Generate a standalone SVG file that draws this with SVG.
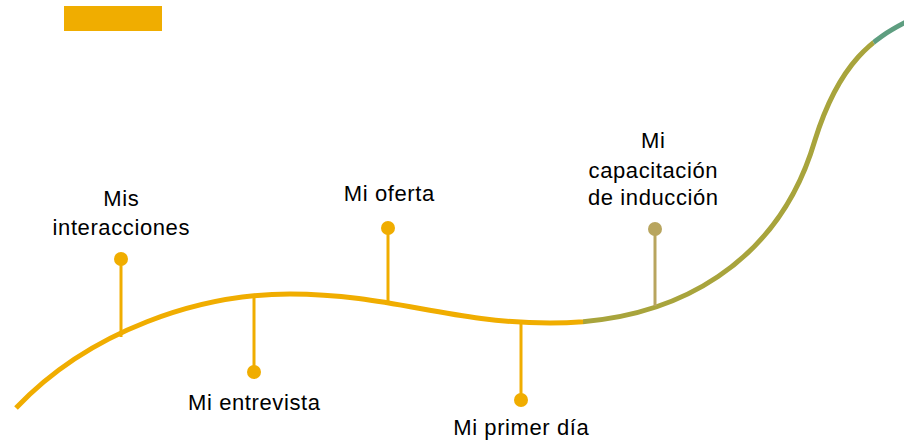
<svg xmlns="http://www.w3.org/2000/svg" width="904" height="443" viewBox="0 0 904 443">
<style>
.road{fill:none;stroke-width:5;stroke-linecap:butt}
.stem{stroke-width:3;fill:none}
.y{stroke:#F0AD00}
.yf{fill:#F0AD00}
.lbl{font-family:"Liberation Sans",Arial,sans-serif;font-size:22px;letter-spacing:0.6px;fill:#000;text-anchor:middle}
</style>
<defs>
<path id="curve" d="M16,408 C90,330 200,294 290,294 C390,294 450,323 550,323 C680,323 780,260 815,140 C840,60 875,38 906,22"/>
<clipPath id="cy"><rect x="0" y="0" width="583" height="443"/></clipPath>
<clipPath id="co2"><polygon points="583,0 850,0 885,63 900,443 583,443"/></clipPath>
<clipPath id="ct"><polygon points="850,0 904,0 904,443 885,63"/></clipPath>
</defs>
<rect x="64" y="6" width="98" height="25" fill="#F0AD00"/>
<g id="connectors">
<use href="#curve" class="road" stroke="#F0AD00" clip-path="url(#cy)"/>
<use href="#curve" class="road" stroke="#A8A43C" clip-path="url(#co2)"/>
<use href="#curve" class="road" stroke="#5E9E80" clip-path="url(#ct)"/>
</g>
<g id="node-interacciones">
<line class="stem y" x1="121" y1="259" x2="121" y2="337"/>
<circle class="yf" cx="121" cy="259" r="7"/>
<text class="lbl" x="121.3" y="206">Mis</text>
<text class="lbl" x="121.3" y="235">interacciones</text>
</g>
<g id="node-entrevista">
<line class="stem y" x1="254" y1="296" x2="254" y2="372"/>
<circle class="yf" cx="254" cy="372" r="7"/>
<text class="lbl" x="254.3" y="410">Mi entrevista</text>
</g>
<g id="node-oferta">
<line class="stem y" x1="388" y1="228" x2="388" y2="301"/>
<circle class="yf" cx="388" cy="228" r="7"/>
<text class="lbl" x="389.3" y="201">Mi oferta</text>
</g>
<g id="node-primer-dia">
<line class="stem y" x1="521" y1="322" x2="521" y2="400"/>
<circle class="yf" cx="521" cy="400" r="7"/>
<text class="lbl" x="521.3" y="435">Mi primer día</text>
</g>
<g id="node-capacitacion">
<line class="stem" stroke="#B8A55E" x1="655" y1="229" x2="655" y2="306"/>
<circle fill="#B8A55E" cx="655" cy="229" r="7"/>
<text class="lbl" x="653.3" y="148">Mi</text>
<text class="lbl" x="653.3" y="178">capacitación</text>
<text class="lbl" x="653.3" y="205">de inducción</text>
</g>
</svg>
